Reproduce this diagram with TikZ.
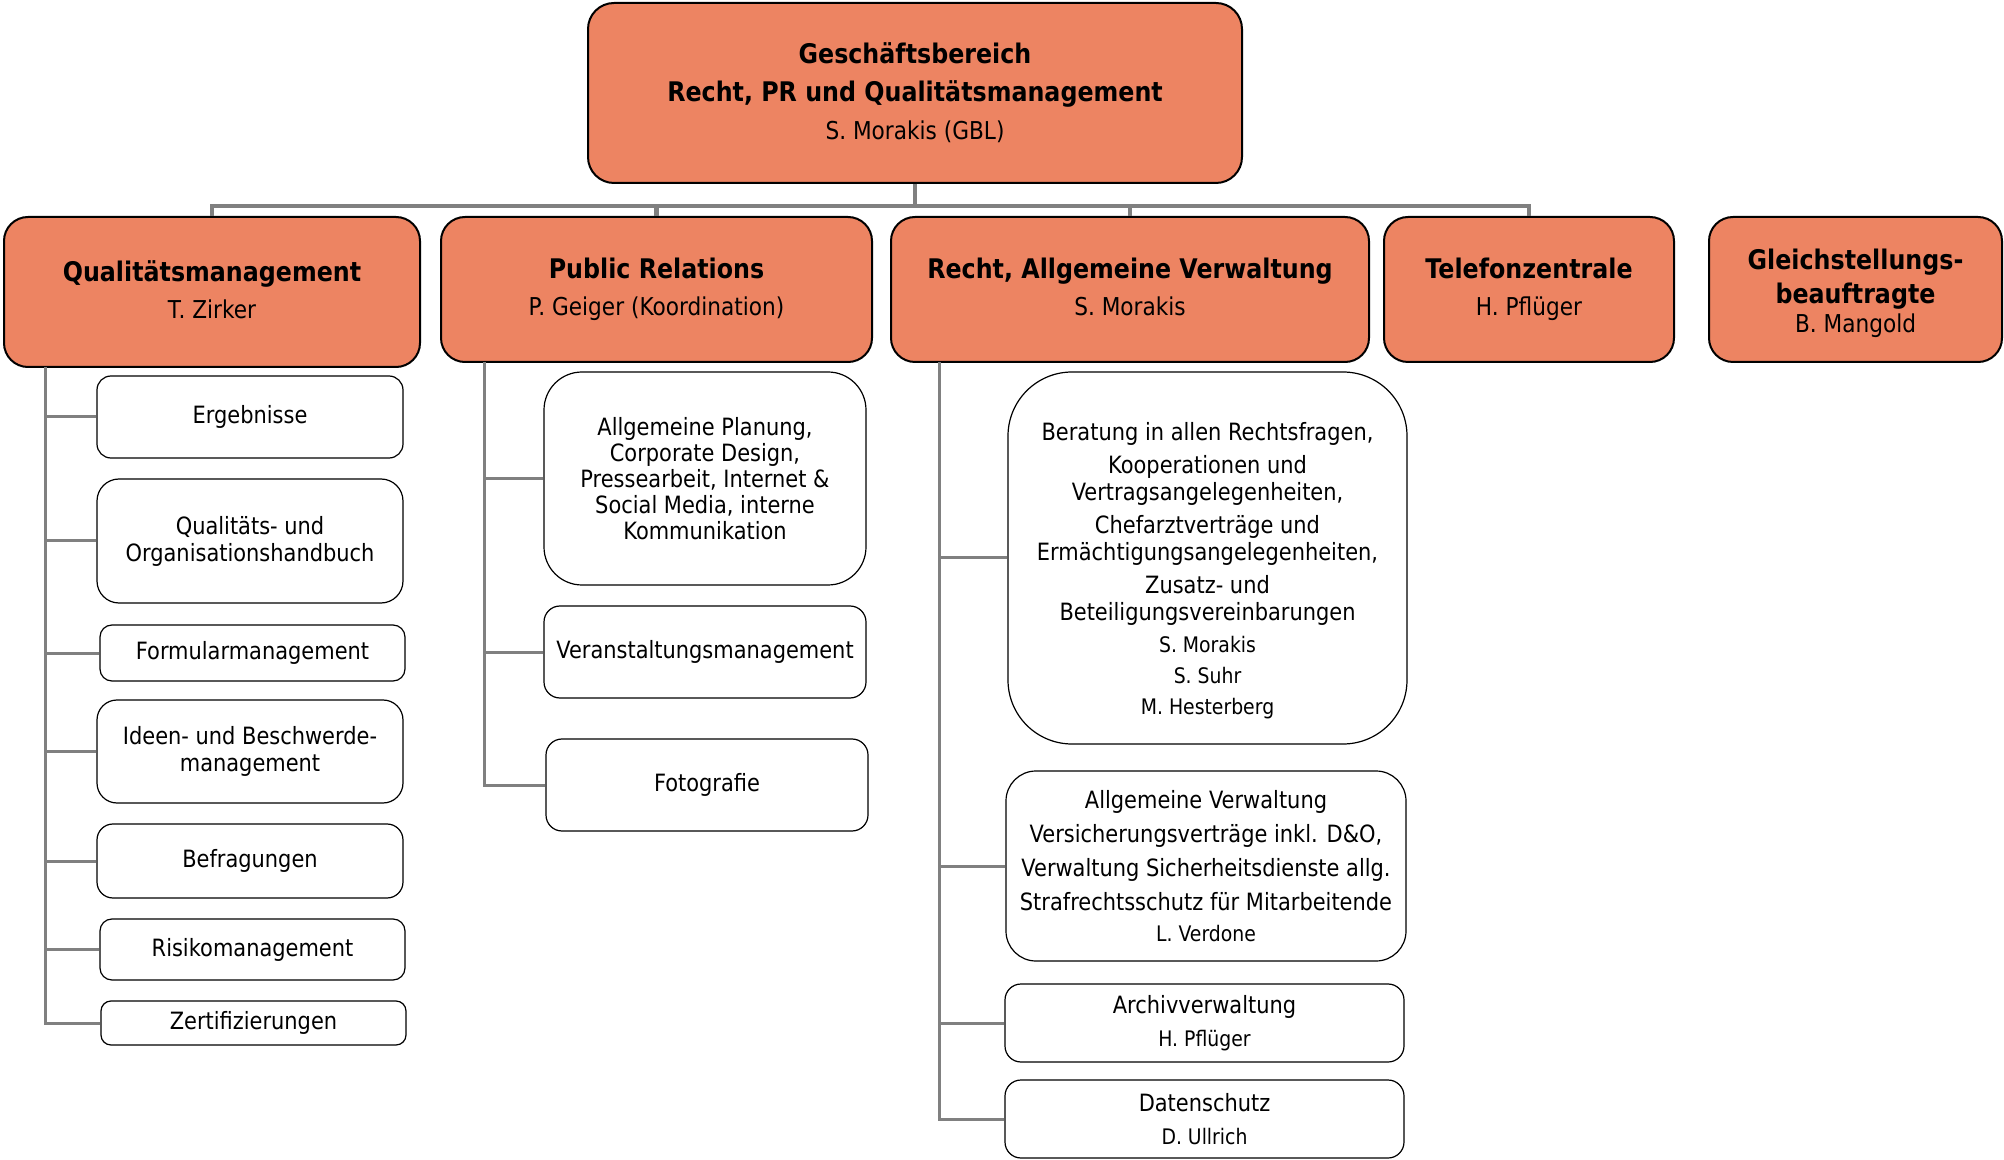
\documentclass[tikz,border=0pt]{standalone}
\usepackage{fontspec}
\setmainfont{DejaVu Sans}[FakeStretch=0.88]
\definecolor{orgfill}{RGB}{237,132,98}
\definecolor{linegray}{RGB}{128,128,128}
\tikzset{
  lvl/.style={draw=black, line width=1pt, fill=orgfill, rounded corners=12pt, align=center, inner sep=0pt},
  sub/.style={draw=black, line width=0.6pt, fill=white, rounded corners=6pt, align=center, inner sep=0pt,
    font=\fontsize{11.9}{13.5}\selectfont},
  conn/.style={draw=linegray, line width=1.5pt},
  busline/.style={draw=linegray, line width=2.2pt},
  ttl/.style={font=\fontsize{13.5}{18.5}\selectfont},
}
\newcommand{\nm}{\fontsize{10.7}{12}\selectfont}
\newcommand{\bnm}{\fontsize{12.3}{14}\selectfont}
\newcommand{\myphdepth}{\vphantom{(g}}
\begin{document}
\begin{tikzpicture}[x=0.5pt,y=-0.5pt]
\useasboundingbox (0,0) rectangle (2004,1160);
% top
\node[lvl, font=\fontsize{13.5}{19}\selectfont, rounded corners=13pt, minimum width=327pt, minimum height=90pt] (top) at (915,93)
  {\textbf{Geschäftsbereich}\\\textbf{Recht, PR und Qualitätsmanagement}\\{\bnm S. Morakis (GBL)}};
% level 2
\node[lvl, ttl, minimum width=208pt, minimum height=75pt] (qm) at (212,292)
  {\textbf{Qualitätsmanagement}\\{\bnm T. Zirker\myphdepth}};
\node[lvl, ttl, minimum width=215.5pt, minimum height=72.5pt] (pr) at (656.5,289.5)
  {\textbf{Public Relations}\\{\bnm P. Geiger (Koordination)\myphdepth}};
\node[lvl, ttl, minimum width=239pt, minimum height=72.5pt] (re) at (1130,289.5)
  {\textbf{Recht, Allgemeine Verwaltung}\\{\bnm S. Morakis\myphdepth}};
\node[lvl, ttl, minimum width=145pt, minimum height=72.5pt] (tel) at (1529,289.5)
  {\textbf{Telefonzentrale}\\{\bnm H. Pflüger\myphdepth}};
\node[lvl, minimum width=146.5pt, minimum height=72.5pt, font=\fontsize{13.5}{17}\selectfont] (gl) at (1855.5,289.5)
  {\rule{0pt}{14pt}\textbf{Gleichstellungs-}\\\textbf{beauftragte}\\[-2.5pt]{\bnm B. Mangold}};
% bus
\coordinate (bus) at (915,206);
\draw[busline] (top.south) -- (bus);
\draw[busline] (qm.north) -- (qm.north |- bus) -- (tel.north |- bus) -- (tel.north);
\draw[busline] (pr.north) -- (pr.north |- bus);
\draw[busline] (re.north) -- (re.north |- bus);
% QM subtree
\node[sub, rounded corners=7pt, minimum width=153pt, minimum height=41pt] (q1) at (250,417) {Ergebnisse};
\node[sub, rounded corners=11pt, minimum width=153pt, minimum height=62pt] (q2) at (250,541) {Qualitäts- und\\Organisationshandbuch};
\node[sub, minimum width=152.5pt, minimum height=28pt] (q3) at (252.5,653) {Formularmanagement};
\node[sub, rounded corners=10pt, minimum width=153pt, minimum height=51.5pt] (q4) at (250,751.5) {Ideen- und Beschwerde-\\management};
\node[sub, rounded corners=8pt, minimum width=153pt, minimum height=37pt] (q5) at (250,861) {Befragungen};
\node[sub, minimum width=152.5pt, minimum height=30.5pt] (q6) at (252.5,949.5) {Risikomanagement};
\node[sub, rounded corners=5pt, minimum width=152.5pt, minimum height=22pt] (q7) at (253.5,1023) {Zertifizierungen};
\coordinate (qt) at (45,367);
\draw[conn] (qt) |- (q7.west);
\foreach \n in {q1,q2,q3,q4,q5,q6} \draw[conn] (\n.west) -- (\n.west -| qt);
% PR subtree
\node[sub, rounded corners=19pt, minimum width=161pt, minimum height=106.5pt, font=\fontsize{11.9}{13}\selectfont] (p1) at (705,478.5)
  {Allgemeine Planung,\\Corporate Design,\\Pressearbeit, Internet \&\\Social Media, interne\\Kommunikation};
\node[sub, rounded corners=8pt, minimum width=161pt, minimum height=46pt] (p2) at (705,652) {Veranstaltungsmanagement};
\node[sub, rounded corners=8pt, minimum width=161pt, minimum height=46pt] (p3) at (707,785) {Fotografie};
\coordinate (pt) at (484,362);
\draw[conn] (pt) |- (p3.west);
\foreach \n in {p1,p2} \draw[conn] (\n.west) -- (\n.west -| pt);
% Recht subtree
\node[sub, rounded corners=32pt, minimum width=199.5pt, minimum height=186pt] (r1) at (1207.5,558)
  {\rule{0pt}{22pt}Beratung in allen Rechtsfragen,\\[3pt]Kooperationen und\\Vertragsangelegenheiten,\\[3pt]Chefarztverträge und\\Ermächtigungsangelegenheiten,\\[3pt]Zusatz- und\\Beteiligungsvereinbarungen\\[2.5pt]
   {\nm S. Morakis}\\[2pt]{\nm S. Suhr}\\[2pt]{\nm M. Hesterberg}};
\node[sub, rounded corners=15pt, minimum width=200pt, minimum height=95pt] (r2) at (1206,866)
  {Allgemeine Verwaltung\\[3.5pt]Versicherungsverträge inkl. D\&O,\\[3.5pt]Verwaltung Sicherheitsdienste allg.\\[3.5pt]Strafrechtsschutz für Mitarbeitende\\[2pt]{\nm L. Verdone}};
\node[sub, rounded corners=8pt, minimum width=199.5pt, minimum height=39pt] (r3) at (1204.5,1023)
  {Archivverwaltung\\[3pt]{\nm H. Pflüger}};
\node[sub, rounded corners=8pt, minimum width=199.5pt, minimum height=39pt] (r4) at (1204.5,1119)
  {Datenschutz\\[3pt]{\nm D. Ullrich}};
\coordinate (rt) at (939,362);
\draw[conn] (rt) |- (r4.west);
\foreach \n in {r1,r2,r3} \draw[conn] (\n.west) -- (\n.west -| rt);
\end{tikzpicture}
\end{document}
